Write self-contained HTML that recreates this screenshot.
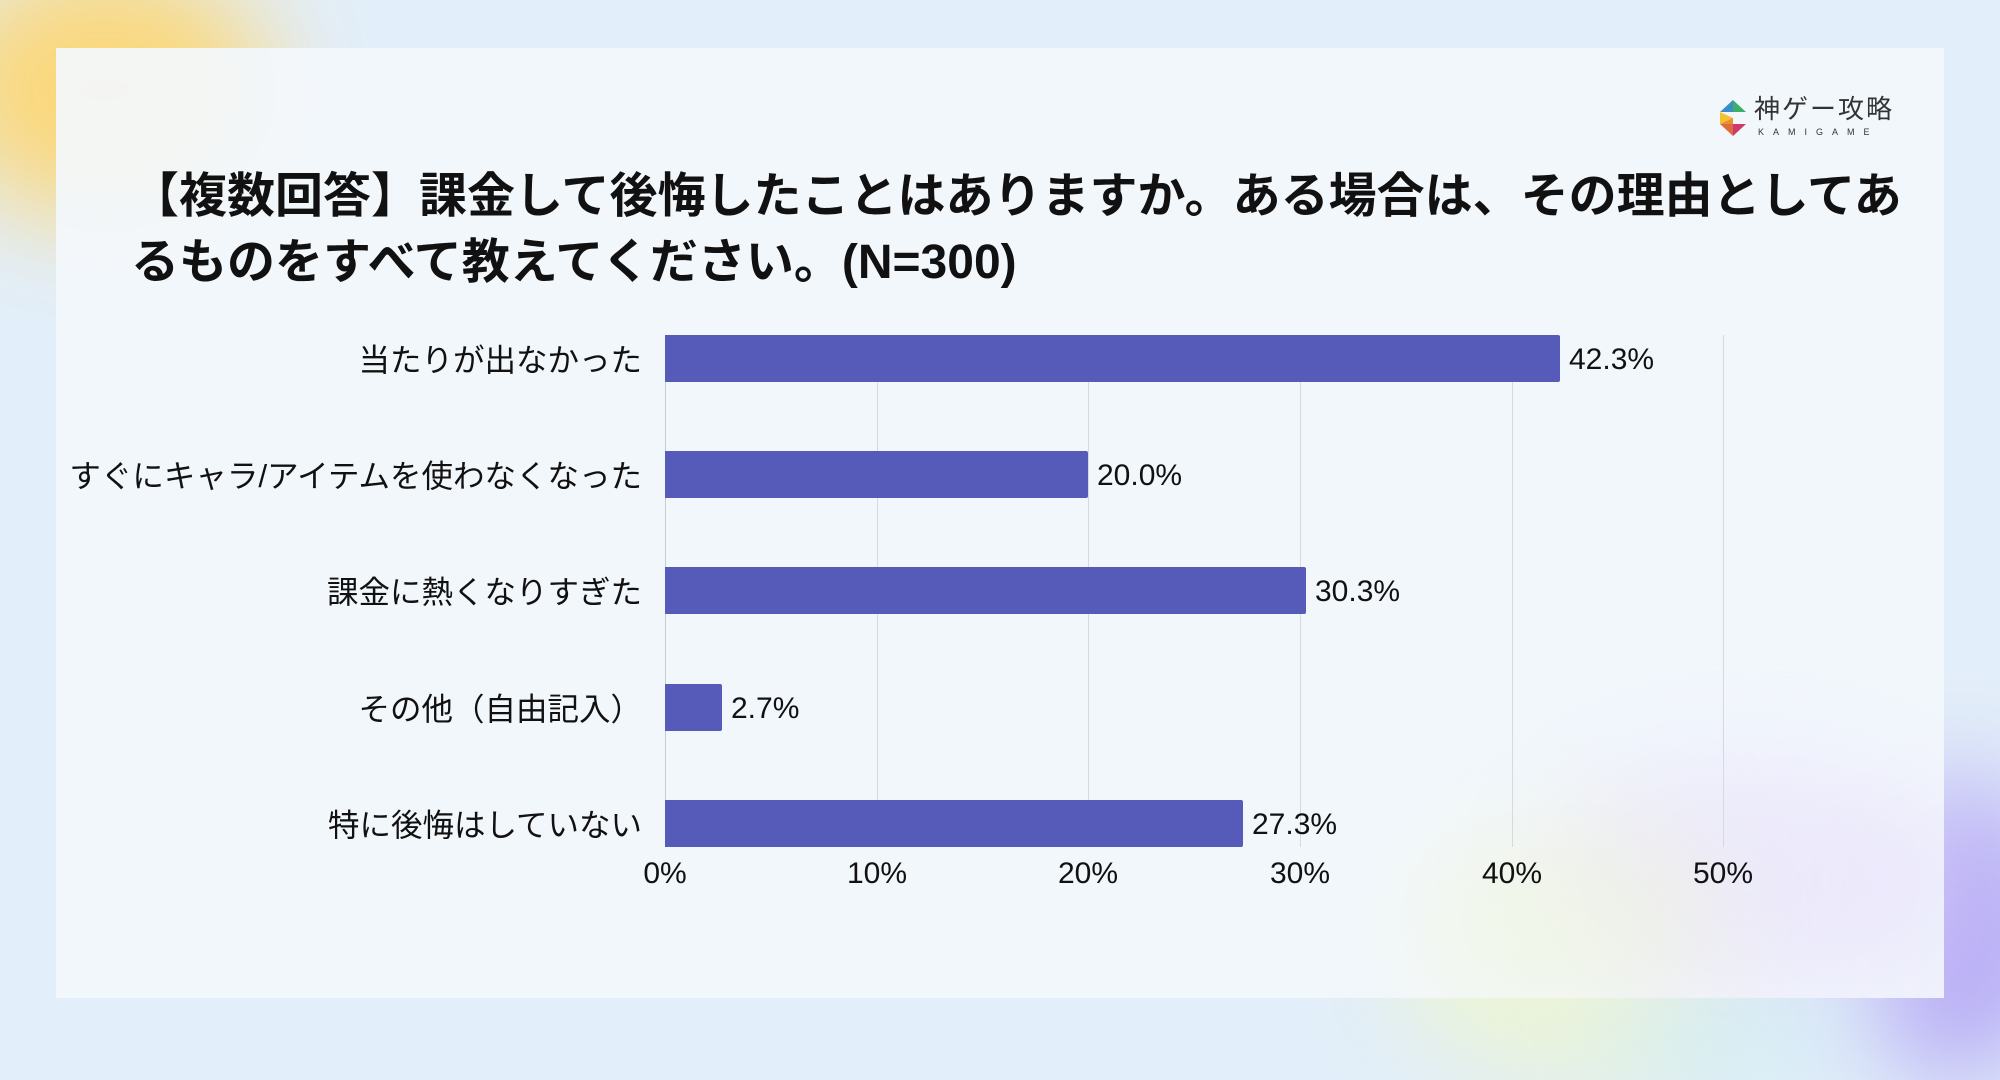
<!DOCTYPE html>
<html><head><meta charset="utf-8"><style>
*{margin:0;padding:0;box-sizing:border-box}
body{width:2000px;height:1047px;overflow:hidden;position:relative;background:#e2eef9;font-family:"Liberation Sans","Noto Sans CJK JP",sans-serif;color:#111}
.blob{position:absolute;border-radius:50%;filter:blur(50px)}
#card{position:absolute;left:56px;top:48px;width:1888px;height:950px;background:rgba(243,248,252,0.93)}
.title{position:absolute;left:131px;top:164px;font-size:48px;font-weight:bold;line-height:66px;white-space:nowrap;color:#111}
.lab{position:absolute;right:1358px;font-size:31.5px;white-space:nowrap;transform:translateY(-50%)}
.val{position:absolute;font-size:30px;white-space:nowrap;transform:translateY(-50%)}
.tick{position:absolute;top:874px;font-size:30px;transform:translate(-50%,-50%)}
.grid{position:absolute;top:335px;height:512px;width:1px;background:#d6dae0}
.bar{position:absolute;left:665px;height:47px;background:#565ab8;border-radius:0 2px 2px 0}
</style></head><body>
<div class="blob" style="left:-60px;top:-40px;width:330px;height:260px;background:#ffd466;opacity:.85"></div>
<div class="blob" style="left:1850px;top:780px;width:220px;height:300px;background:#b3a6f5;opacity:.9"></div>
<div class="blob" style="left:1400px;top:820px;width:350px;height:260px;background:#eef6c8;opacity:.7"></div>
<div class="blob" style="left:1600px;top:950px;width:250px;height:120px;background:#cdeff5;opacity:.8"></div>
<div id="card"></div>
<div class="blob" style="left:1540px;top:760px;width:420px;height:240px;background:#e6dcfa;opacity:.5"></div>
<div class="blob" style="left:1420px;top:820px;width:300px;height:200px;background:#f0f7d8;opacity:.5"></div>

<svg style="position:absolute;left:1716px;top:100px" width="34" height="36" viewBox="0 0 34 36">
<polygon points="17,0 17,12 4,12" fill="#3a8ec8"/><polygon points="17,0 30,12 17,12" fill="#3bb06a"/>
<polygon points="4,12 17,18 4,24" fill="#f2c230"/><polygon points="4,24 17,18 17,24" fill="#e89030"/>
<polygon points="4,24 17,24 17,36" fill="#e06a3a"/><polygon points="17,24 30,24 17,36" fill="#d03a6a"/>
</svg>
<div style="position:absolute;left:1754px;top:94px;font-size:26px;letter-spacing:2px;color:#333;line-height:30px">神ゲー攻略</div>
<div style="position:absolute;left:1758px;top:127px;font-size:9px;letter-spacing:9px;color:#333;line-height:10px">KAMIGAME</div>

<div class="title">【複数回答】課金して後悔したことはありますか。ある場合は、その理由としてあ<br>るものをすべて教えてください。(N=300)</div>

<div class="grid" style="left:665px;background:#c8ccd3"></div>
<div class="grid" style="left:877px"></div>
<div class="grid" style="left:1088px"></div>
<div class="grid" style="left:1300px"></div>
<div class="grid" style="left:1512px"></div>
<div class="grid" style="left:1723px"></div>

<div class="bar" style="top:335px;width:895px"></div>
<div class="bar" style="top:451px;width:423px"></div>
<div class="bar" style="top:567px;width:641px"></div>
<div class="bar" style="top:684px;width:57px"></div>
<div class="bar" style="top:800px;width:578px"></div>

<div class="lab" style="top:358px">当たりが出なかった</div>
<div class="lab" style="top:474px">すぐにキャラ/アイテムを使わなくなった</div>
<div class="lab" style="top:590px">課金に熱くなりすぎた</div>
<div class="lab" style="top:707px">その他（自由記入）</div>
<div class="lab" style="top:823px">特に後悔はしていない</div>

<div class="val" style="left:1569px;top:360px">42.3%</div>
<div class="val" style="left:1097px;top:476px">20.0%</div>
<div class="val" style="left:1315px;top:592px">30.3%</div>
<div class="val" style="left:731px;top:709px">2.7%</div>
<div class="val" style="left:1252px;top:825px">27.3%</div>

<div class="tick" style="left:665px">0%</div>
<div class="tick" style="left:877px">10%</div>
<div class="tick" style="left:1088px">20%</div>
<div class="tick" style="left:1300px">30%</div>
<div class="tick" style="left:1512px">40%</div>
<div class="tick" style="left:1723px">50%</div>
</body></html>
